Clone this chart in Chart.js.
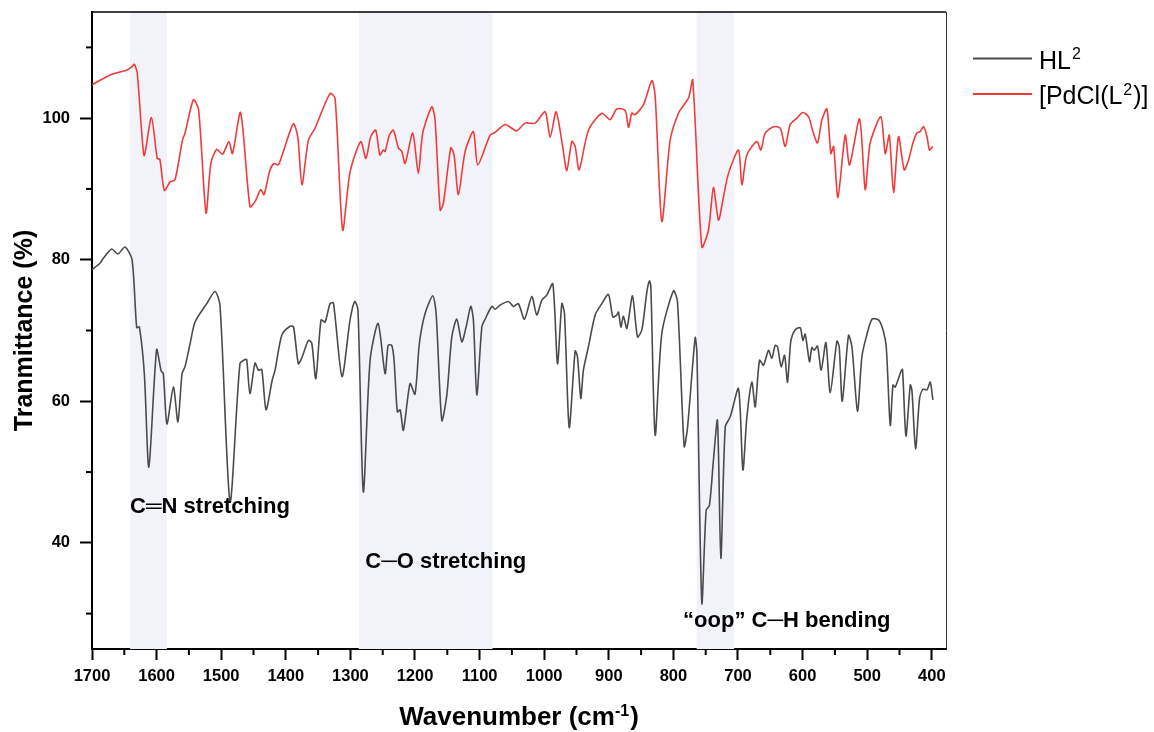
<!DOCTYPE html>
<html><head><meta charset="utf-8">
<script src="https://cdn.jsdelivr.net/npm/chart.js@4.4.1/dist/chart.umd.min.js"></script>
<style>html,body{margin:0;padding:0;background:#fff;}#wrap{width:1154px;height:732px;position:relative;}</style>
</head><body><div id="wrap"><canvas id="c" width="1154" height="732"></canvas></div>
<script>
// ---------- data (wavenumber cm-1, transmittance %) ----------
const hlWave = [1700,1687.6,1682.5,1669.5,1660,1649,1638,1630.8,1626.7,1619,1612,1600,1593,1589.6,1584,1574,1567,1560.6,1556,1548,1540.5,1522.4,1509.5,1501.8,1486.3,1471,1463,1460.5,1455.5,1447.6,1442.5,1437.2,1430.6,1421,1416.6,1406,1393.4,1388,1380.6,1375.3,1365,1359.8,1353.6,1345.4,1339.2,1331.5,1326.3,1313,1300.5,1293.3,1288.3,1280,1269.5,1257.1,1246.3,1241.6,1236,1232.4,1227.3,1223,1218,1207.6,1200,1193.2,1184.4,1172.5,1167.3,1158.5,1150.7,1143,1135.3,1127.5,1120.9,1113.6,1109.6,1104.3,1096.5,1091.4,1081,1076,1068,1055.4,1047.6,1040,1030.6,1019.2,1011.5,1003.6,996,986.6,979.4,972.7,968.6,961.3,952.1,948.5,943.3,939.3,931.5,921.1,910.8,900.5,893.7,887.5,885,881.3,877.3,872,863.3,855.6,848.8,841,837,834.9,828.2,817.9,799.9,793.7,783.3,778.2,766.3,763.6,756,749.3,744.2,738,731.8,726.5,719.7,712,699.2,692.4,686.2,678.5,673.4,666.7,660.5,652.8,647.6,642.4,638.8,633.1,627.9,623.3,618.1,611.4,603.7,599.5,596,589.3,585.6,582,576.9,571.2,563.9,557.2,546.9,543.3,538.6,528.9,523.6,515,508.2,501.4,492.6,482.5,475.6,470.5,464.3,460.1,456.6,447.8,445.3,440,433.3,430.7,425.1,418.9,413.7,407.5,402.4,398.3];
const hlT = [78.6,79.5,80.2,81.5,80.8,81.8,80.0,70.4,70.5,63.9,50.7,67.3,64.3,63.9,56.8,62.0,57.1,63.9,64.9,68.2,71.2,73.8,75.5,73.5,45.8,65.3,65.9,65.9,61.1,65.4,64.4,64.5,58.8,63.0,64.4,69.4,70.6,70.5,65.3,66.1,68.6,68.2,63.2,71.5,71.2,73.8,73.9,63.5,71.5,74.1,72.9,47.2,65.8,71.0,63.9,67.9,67.9,65.8,58.5,58.8,55.9,62.5,61.0,68.2,72.4,74.9,72.4,57.3,60.9,69.1,71.6,68.4,70.5,73.4,71.5,60.9,70.5,71.6,73.4,73.0,73.6,74.1,73.4,73.8,71.6,74.8,72.2,74.3,75.0,76.6,65.3,73.8,72.4,56.3,67.1,66.3,60.4,64.4,67.7,72.2,73.8,75.1,71.9,72.2,72.6,70.5,72.0,70.3,74.9,69.1,70.1,75.5,77.0,76.2,55.2,69.6,75.6,74.1,53.6,56.2,69.0,66.8,31.5,44.6,45.3,51.7,57.3,37.8,56.4,57.8,61.8,50.3,57.8,62.7,59.2,65.8,65.1,67.2,66.1,67.9,67.7,64.9,66.5,62.7,68.6,70.1,70.4,68.6,69.5,65.6,67.6,67.2,67.8,64.4,68.3,61.2,68.5,67.7,60.0,69.3,67.7,58.6,66.3,69.1,71.6,71.5,70.1,67.7,56.6,62.3,62.0,64.2,64.5,55.1,62.3,61.5,53.3,60.4,61.7,61.6,62.7,60.2];

const pdWave = [1700,1672,1646,1638,1634.5,1630,1623,1619,1608,1599,1595,1588,1579,1571.5,1560,1556,1543,1535,1523.5,1516,1507,1498,1488,1482.6,1470,1455.5,1447.6,1438.8,1433.7,1424.4,1418,1411.5,1403.8,1388.3,1381.5,1375,1365,1354.7,1331.5,1323.7,1312,1300.5,1284,1276,1268.5,1260.8,1254.5,1249,1246.3,1239.6,1233.4,1225.7,1220.5,1215.3,1203.5,1194.8,1188,1174,1169,1161,1156,1144.6,1139.5,1132.8,1122.4,1109.6,1102.8,1083.7,1076,1060.5,1049,1042.4,1029.5,1014,998.5,990.8,981.5,971.1,965,957.2,952.1,945.9,931.5,910.8,897.9,887.6,874.7,869.5,864.3,859.2,846.3,833.3,828.2,817.9,805,792.2,781.8,776,770,756,745.7,738,730.2,722.4,714.7,699.2,694,686.3,670.8,664.6,657.9,645,634.6,626.9,619.2,608.8,599.6,590.8,584,576.9,570,562.3,556.2,552,545.3,534,527.3,511.8,503,495.3,478.9,472,465.8,459.2,451.5,442.7,436,429.2,423,418,412.7,407.5,403.5,398.3];
const pdT = [104.7,106.1,106.8,107.3,107.6,106.4,97.9,94.7,100.1,94.3,94.2,89.8,91.0,91.3,96.9,97.9,102.6,101.2,86.6,93.6,95.6,94.9,96.7,95.0,100.8,87.5,88.2,89.9,89.2,92.7,93.6,93.4,95.3,99.2,97.4,90.6,96.9,98.6,103.5,102.8,84.2,92.4,96.7,94.3,97.4,98.3,94.8,95.5,95.3,97.6,98.3,95.8,95.3,93.6,97.9,92.2,97.9,101.6,99.8,87.0,88.0,95.8,94.8,89.2,95.3,98.1,93.4,97.6,98.0,99.1,98.5,98.2,99.3,99.3,100.9,97.3,100.9,95.8,92.6,96.7,96.0,92.7,98.3,100.7,99.8,101.3,101.1,98.7,100.7,100.5,101.9,105.3,103.1,85.4,96.9,100.7,102.1,103.0,105.4,81.8,84.2,90.2,85.6,88.9,92.2,95.5,90.6,94.8,96.7,95.5,97.9,98.8,98.6,96.0,99.1,100.0,100.8,100.2,98.1,96.5,99.8,101.3,95.0,96.0,88.8,97.6,93.4,99.9,89.9,96.5,100.2,95.0,97.6,89.5,97.4,92.7,94.1,96.5,97.9,98.1,98.8,97.4,95.5,96.0];

const xTickValues = [400,450,500,550,600,650,700,750,800,850,900,950,1000,1050,1100,1150,1200,1250,1300,1350,1400,1450,1500,1550,1600,1650,1700];
const xTickLabels = [400,500,600,700,800,900,1000,1100,1200,1300,1400,1500,1600,1700];
const yTickValues = [30,40,50,60,70,80,90,100,110];
const yTickLabels = [40,60,80,100];

const bandFrom = [1641,1287,764];
const bandTo = [1584,1080,706];

const noteText = ['C\u2550N stretching','C\u2500O stretching','\u201Coop\u201D C\u2500H bending'];
const noteWave = [1641,1277,785];
const noteT = [44.2,36.4,28.05];

const seriesNames = ['HL\u00B2','[PdCl(L\u00B2)]'];
const seriesColors = ['#4b4b4b','#f03b3b'];
const legendParts = [['HL','2',''],['[PdCl(L','2',')]']];

// ---------- chart ----------
const FONT = 'Arial, "Liberation Sans", Helvetica, sans-serif';

const decor = {
  id:'decor',
  beforeDatasetsDraw(chart){
    const {ctx, chartArea:a, scales:{x}} = chart;
    ctx.save();
    ctx.fillStyle = '#f2f3f9';
    for(let i=0;i<bandFrom.length;i++){
      const p1 = x.getPixelForValue(bandFrom[i]), p2 = x.getPixelForValue(bandTo[i]);
      ctx.fillRect(p1, a.top, p2-p1, a.bottom-a.top);
    }
    ctx.restore();
  },
  afterDraw(chart){
    const {ctx, chartArea:a, scales:{x,y}} = chart;
    ctx.save();
    // frame top/right
    ctx.strokeStyle = '#000'; ctx.lineWidth = 1.3;
    ctx.beginPath(); ctx.moveTo(a.left, a.top); ctx.lineTo(a.right, a.top); ctx.stroke();
    ctx.strokeStyle = '#333'; ctx.lineWidth = 1;
    ctx.beginPath(); ctx.moveTo(a.right+0.5, a.top); ctx.lineTo(a.right+0.5, a.bottom); ctx.stroke();
    // minor ticks
    ctx.strokeStyle = '#000'; ctx.lineWidth = 2;
    xTickValues.forEach(v=>{ if(!xTickLabels.includes(v)){ const px=x.getPixelForValue(v); ctx.beginPath(); ctx.moveTo(px,a.bottom); ctx.lineTo(px,a.bottom+6); ctx.stroke(); }});
    yTickValues.forEach(v=>{ if(!yTickLabels.includes(v)){ const py=y.getPixelForValue(v); ctx.beginPath(); ctx.moveTo(a.left,py); ctx.lineTo(a.left-6,py); ctx.stroke(); }});
    // annotations
    ctx.fillStyle = '#000';
    ctx.font = 'bold 22px ' + FONT;
    ctx.textBaseline = 'alphabetic'; ctx.textAlign = 'left';
    noteText.forEach((t,i)=>ctx.fillText(t, x.getPixelForValue(noteWave[i]), y.getPixelForValue(noteT[i])));
    // legend
    const lx0 = a.right + 27, lx1 = a.right + 86, tx = a.right + 93;
    legendParts.forEach((parts,i)=>{
      const ly = 58.5 + i*35.5;
      ctx.strokeStyle = seriesColors[i]; ctx.lineWidth = 2;
      ctx.beginPath(); ctx.moveTo(lx0, ly); ctx.lineTo(lx1, ly); ctx.stroke();
      ctx.fillStyle = '#000';
      let cx = tx; const base = ly + 10;
      ctx.font = '25px ' + FONT; ctx.fillText(parts[0], cx, base); cx += ctx.measureText(parts[0]).width + 1;
      ctx.font = '16px ' + FONT; ctx.fillText(parts[1], cx, base - 9.5); cx += ctx.measureText(parts[1]).width + 1;
      ctx.font = '25px ' + FONT; ctx.fillText(parts[2], cx, base);
    });
    // x title
    ctx.fillStyle = '#000';
    const t1 = 'Wavenumber (cm', t2 = '-1', t3 = ')';
    ctx.font = 'bold 26px ' + FONT; const w1 = ctx.measureText(t1).width, w3 = ctx.measureText(t3).width;
    ctx.font = 'bold 16px ' + FONT; const w2 = ctx.measureText(t2).width;
    let sx = (a.left + a.right)/2 - (w1+w2+w3+1)/2; const by = 725;
    ctx.font = 'bold 26px ' + FONT; ctx.fillText(t1, sx, by); sx += w1;
    ctx.font = 'bold 16px ' + FONT; ctx.fillText(t2, sx, by - 9.5); sx += w2 + 1;
    ctx.font = 'bold 26px ' + FONT; ctx.fillText(t3, sx, by);
    // y title
    ctx.translate(31.5, (a.top + a.bottom)/2);
    ctx.rotate(-Math.PI/2);
    ctx.textAlign = 'center';
    ctx.font = 'bold 25px ' + FONT;
    ctx.fillText('Tranmittance (%)', 0, 0);
    ctx.restore();
  }
};

new Chart(document.getElementById('c'), {
  type:'line',
  data:{ datasets:[
    { label: seriesNames[0], data: hlWave.map((w,i)=>({x:w,y:hlT[i]})), borderColor: seriesColors[0], borderWidth:1.6, pointRadius:0, tension:0.25, fill:false },
    { label: seriesNames[1], data: pdWave.map((w,i)=>({x:w,y:pdT[i]})), borderColor: seriesColors[1], borderWidth:1.6, pointRadius:0, tension:0.25, fill:false }
  ]},
  options:{
    responsive:false, animation:false, devicePixelRatio:1,
    layout:{ padding:{ top:12, right:208, bottom:0, left:0 } },
    plugins:{ legend:{display:false}, tooltip:{enabled:false}, title:{display:false} },
    scales:{
      x:{ type:'linear', reverse:true, min:378, max:1700,
        afterFit(s){ s.height = 83; s.paddingLeft = 0; s.paddingRight = 0; },
        afterBuildTicks(s){ s.ticks = xTickValues.map(v=>({value:v})); },
        ticks:{ autoSkip:false, maxRotation:0, padding:7, color:'#000', font:{family:FONT, size:16.5, weight:'bold'},
          callback:v => xTickLabels.includes(v) ? String(v) : '' },
        grid:{ drawOnChartArea:false, drawTicks:true, tickLength:11, tickWidth:2,
          tickColor: c => (c.tick && xTickLabels.includes(c.tick.value)) ? '#000' : 'rgba(0,0,0,0)' },
        border:{ display:true, color:'#000', width:2 }
      },
      y:{ type:'linear', min:25, max:115,
        afterFit(s){ s.width = 92; s.paddingTop = 0; s.paddingBottom = 0; },
        afterBuildTicks(s){ s.ticks = yTickValues.map(v=>({value:v})); },
        ticks:{ autoSkip:false, padding:10, color:'#000', font:{family:FONT, size:16.5, weight:'bold'},
          callback:v => yTickLabels.includes(v) ? String(v) : '' },
        grid:{ drawOnChartArea:false, drawTicks:true, tickLength:12, tickWidth:2,
          tickColor: c => (c.tick && yTickLabels.includes(c.tick.value)) ? '#000' : 'rgba(0,0,0,0)' },
        border:{ display:true, color:'#000', width:2 }
      }
    }
  },
  plugins:[decor]
});
</script></body></html>
